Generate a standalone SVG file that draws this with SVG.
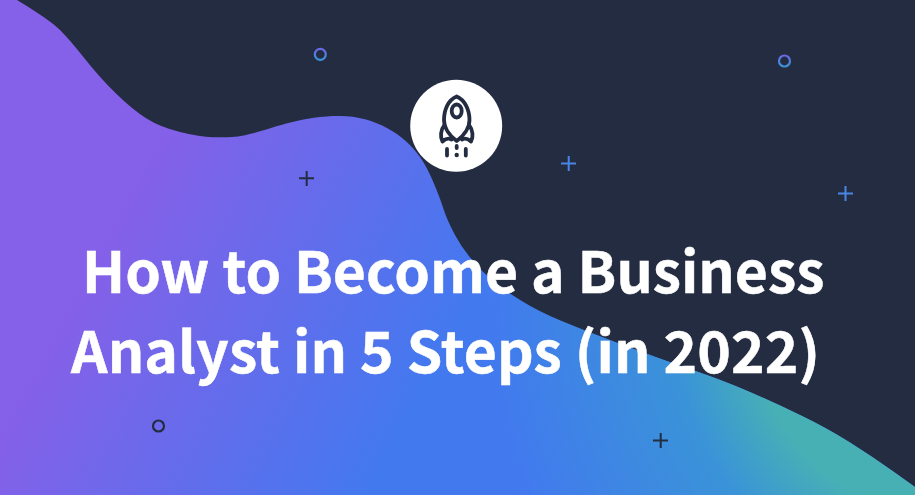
<svg xmlns="http://www.w3.org/2000/svg" width="915" height="495" viewBox="0 0 915 495">
<style>
.t{font-family:"Noto Sans CJK SC","Noto Sans",sans-serif;font-weight:700;font-size:57px;fill:#fff;stroke:#fff;stroke-width:.5}
.r{fill:none;stroke:#232c40;stroke-width:3.8;stroke-linecap:round;stroke-linejoin:round}
.c{fill:none;stroke-width:2.2}
.p{fill:none;stroke-width:2}
</style>
<defs>
<linearGradient id="g" gradientUnits="userSpaceOnUse" x1="100" y1="250" x2="412" y2="417">
<stop offset="0" stop-color="#8560e8"/>
<stop offset="1" stop-color="#4279ef"/>
</linearGradient>
<radialGradient id="h" gradientUnits="userSpaceOnUse" cx="956" cy="318" r="470">
<stop offset="0.43" stop-color="#47b0b5"/>
<stop offset="0.6" stop-color="#3a93d8"/>
<stop offset="1" stop-color="#3a93d8" stop-opacity="0"/>
</radialGradient>
<linearGradient id="cg" x1="0" y1="0" x2="0" y2="1">
<stop offset="0" stop-color="#6a68e8"/>
<stop offset="1" stop-color="#3a93d8"/>
</linearGradient>
<path id="shape" d="M0 0H17Q50 20 60 30Q70 40 85 59Q100 78 116.500 94Q133 110 146.500 118.500Q160 127 180 132Q200 137 212.500 137.250Q225 137.500 232 137C262 135 290 116 340 116C375 116 405 135 420 157Q427 167 433.500 182.500Q440 198 443.500 209Q447 220 455 235Q463 250 476.500 265Q490 280 510 293.500Q530 307 550 316Q570 325 616.500 342.500Q663 360 692.500 370Q722 380 747.500 391Q773 402 800 415Q827 428 850 442.500Q873 457 894 472L915 487V495H0Z"/>
</defs>
<rect id="bg" width="915" height="495" fill="#232c40"/>
<use id="blob" href="#shape" fill="url(#g)"/>
<use id="blob-teal" href="#shape" fill="url(#h)"/>
<circle id="ring1" class="c" cx="320.300" cy="54.300" r="5.500" stroke="url(#cg)"/>
<circle id="ring2" class="c" cx="784.500" cy="61" r="5.500" stroke="url(#cg)"/>
<circle id="ring3" class="c" cx="158.500" cy="426" r="5.500" stroke="#232c40"/>
<path id="plus1" class="p" d="M306.700 171V186M299 178.300H314" stroke="#232c40"/>
<path id="plus2" class="p" d="M568.700 156V171M561 163.500H576" stroke="#4a85e6"/>
<path id="plus3" class="p" d="M845.500 186V201M838 193.500H853" stroke="#4a85e6"/>
<path id="plus4" class="p" d="M660.700 433V448M653 440.500H668" stroke="#232c40"/>
<g id="rocket">
<circle cx="456.200" cy="125.800" r="46" fill="#fff"/>
<path class="r" d="M456.700 96.500C448 100 444 110 444 120C444 128 450 136 456.700 141C463.400 136 469.500 128 469.500 120C469.500 110 465 100 456.700 96.500Z"/>
<ellipse class="r" cx="456.700" cy="111" rx="5" ry="6.500"/>
<path class="r" d="M444.500 125C440.500 130 440 137 442.500 141.500C446 138.500 449 138 451.500 139.500M469 125C473 130 473.500 137 471 141.500C467.500 138.500 464.500 138 462 139.500"/>
<path class="r" d="M447 149V155.500M465.800 149V155.500"/>
<path class="r" d="M456.700 146V148"/>
<circle cx="456.700" cy="155" r="2.200" fill="#232c40"/>
</g>
<text class="t" x="82" y="293">How to Become a Business</text>
<text class="t" x="71" y="373" textLength="749">Analyst in 5 Steps (in 2022)</text>
</svg>
